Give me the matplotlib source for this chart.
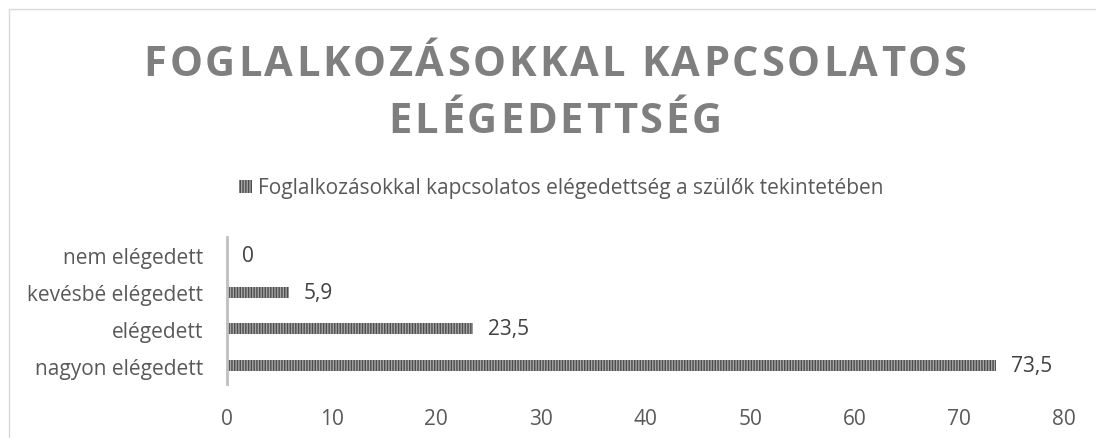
import matplotlib
matplotlib.use("Agg")
import matplotlib.pyplot as plt
from matplotlib.patches import Patch
from matplotlib.lines import Line2D
from matplotlib.transforms import ScaledTranslation
from matplotlib.font_manager import findfont, FontProperties
from matplotlib.ft2font import FT2Font

# adatok
categories = ["nagyon elégedett", "elégedett", "kevésbé elégedett", "nem elégedett"]
values = [73.5, 23.5, 5.9, 0]
value_labels = ["73,5", "23,5", "5,9", "0"]
title_lines = ["FOGLALKOZÁSOKKAL KAPCSOLATOS", "ELÉGEDETTSÉG"]
series_name = "Foglalkozásokkal kapcsolatos elégedettség a szülők tekintetében"
x_ticks = [0, 10, 20, 30, 40, 50, 60, 70, 80]

W, H, DPI = 1096, 439, 100
plt.rcParams['font.family'] = ['Open Sans', 'DejaVu Sans']
plt.rcParams['hatch.linewidth'] = 1.0
plt.rcParams['hatch.color'] = '#4d4d4d'

fig = plt.figure(figsize=(W / DPI, H / DPI), dpi=DPI)

# keret (csak bal és felső része látszik)
left, top = 8.5 / W, 1 - 9.5 / H
fig.add_artist(Line2D([left, left, 1.0], [0.0, top, top], transform=fig.transFigure,
                      color='#d9d9d9', linewidth=1.0))

ax = fig.add_axes([227 / W, 1 - 385 / H, 837 / W, 147 / H])
ypos = range(len(categories))
bars = ax.barh(ypos, values, height=0.3, color='#a6a6a6', hatch='||||||',
               edgecolor='#4d4d4d', linewidth=0)
shift = ax.transData + ScaledTranslation(15 / DPI, 0, fig.dpi_scale_trans)
for b, lab in zip(bars, value_labels):
    ax.text(b.get_width(), b.get_y() + b.get_height() / 2, lab,
            transform=shift, ha='left', va='center', fontsize=15,
            color='#404040')

ax.set_xlim(0, 80)
ax.set_ylim(-0.5, len(categories) - 0.5)
ax.set_xticks(x_ticks)
ax.set_yticks(list(ypos))
ax.set_yticklabels(categories)
ax.tick_params(axis='x', length=0, pad=17, labelsize=15, labelcolor='#595959')
ax.tick_params(axis='y', length=0, pad=17, labelsize=15, labelcolor='#595959')
for s in ['top', 'right', 'bottom']:
    ax.spines[s].set_visible(False)
ax.spines['left'].set_color('#bfbfbf')
ax.spines['left'].set_linewidth(2)

# jelmagyarázat
handle = Patch(facecolor='#a6a6a6', hatch='||||||', edgecolor='#4d4d4d', linewidth=0)
leg = fig.legend([handle], [series_name], loc='center', bbox_to_anchor=(0.512, 1 - 189 / H),
                 frameon=False, fontsize=15, handlelength=0.6, handleheight=0.6,
                 handletextpad=0.3, labelcolor='#595959')

# cím betűközzel
fp = FontProperties(family='Open Sans', weight='bold', size=30)
font = FT2Font(findfont(fp))
font.set_size(30, DPI)
spacing = 2.8
baselines = [76, 133]
for line, base in zip(title_lines, baselines):
    adv = [font.load_char(ord(c)).linearHoriAdvance / 65536 for c in line]
    total = sum(adv) + spacing * (len(line) - 1)
    x = 555 - total / 2
    for c, a in zip(line, adv):
        fig.text(x / W, 1 - base / H, c, fontproperties=fp, color='#7f7f7f',
                 ha='left', va='baseline')
        x += a + spacing

fig.savefig('out.png', dpi=DPI)
